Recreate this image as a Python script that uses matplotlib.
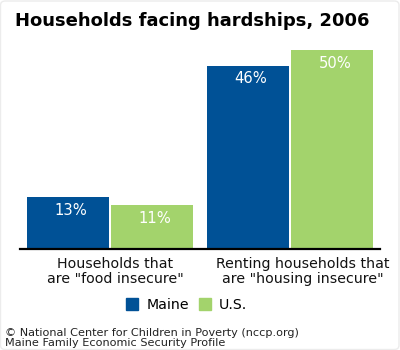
import matplotlib
matplotlib.use("Agg")
import matplotlib.pyplot as plt
from matplotlib.lines import Line2D
from matplotlib.patches import FancyBboxPatch
import numpy as np

plt.rcParams['font.family'] = ['DejaVu Sans']

title = "Households facing hardships, 2006"
categories = ['Households that\nare "food insecure"',
              'Renting households that\nare "housing insecure"']
series_names = ["Maine", "U.S."]
maine = [13, 46]
us = [11, 50]
colors = ["#005196", "#A3D36C"]
footer = ["\u00a9 National Center for Children in Poverty (nccp.org)",
          "Maine Family Economic Security Profile"]

W, H = 400, 350
fig = plt.figure(figsize=(W / 100, H / 100), dpi=100)
fig.patch.set_facecolor("white")

# faint frame around the graphic
frame = FancyBboxPatch((0.5 / W, 0.5 / H), (W - 1.5) / W, (H - 1.5) / H,
                       boxstyle="round,pad=0,rounding_size=0.012",
                       transform=fig.transFigure, fill=False,
                       edgecolor="#ececec", linewidth=1)
fig.patches.append(frame)

ax = fig.add_axes([20 / W, (H - 249) / H, 360 / W, 199 / H])
x = np.arange(len(categories))
width = 0.455
off = 0.233
b1 = ax.bar(x - off, maine, width, color=colors[0])
b2 = ax.bar(x + off, us, width, color=colors[1])

for bars, vals in ((b1, maine), (b2, us)):
    for bar, v in zip(bars, vals):
        ax.annotate(f"{v}%", (bar.get_x() + bar.get_width() / 2, v),
                    xytext=(3, -13), textcoords="offset pixels",
                    ha="center", va="center", color="white", fontsize=10.6)

ax.set_xlim(-0.5, 1.5)
ax.set_ylim(0, 50)
for s in ("top", "right", "left"):
    ax.spines[s].set_visible(False)
ax.spines["bottom"].set_linewidth(1.6)
ax.spines["bottom"].set_color("black")
ax.set_yticks([])
ax.set_xticks([])

label_shift = [0.028, 0.072]
for i, lab in enumerate(categories):
    ax.text(i + label_shift[i], -0.04, lab, transform=ax.get_xaxis_transform(),
            ha="center", va="top", fontsize=10.2, linespacing=1.06,
            color="#111111")

fig.text(15 / W, 1 - 26 / H, title, fontsize=12.95, fontweight="bold",
         ha="left", va="baseline")

handles = [Line2D([], [], marker="s", linestyle="none", markersize=8.5,
                  markerfacecolor=c, markeredgecolor=c) for c in colors]
fig.legend(handles, series_names, loc="center", ncol=2,
           bbox_to_anchor=(186 / W, 1 - 305 / H), frameon=False,
           fontsize=10.2, handletextpad=0.5, columnspacing=0.6,
           handlelength=1.0)

fig.text(5 / W, 1 - 336 / H, footer[0], fontsize=8.1, ha="left",
         va="baseline", color="#222222")
fig.text(5 / W, 1 - 345.5 / H, footer[1], fontsize=8.1, ha="left",
         va="baseline", color="#222222")

fig.savefig("out.png", dpi=100)
